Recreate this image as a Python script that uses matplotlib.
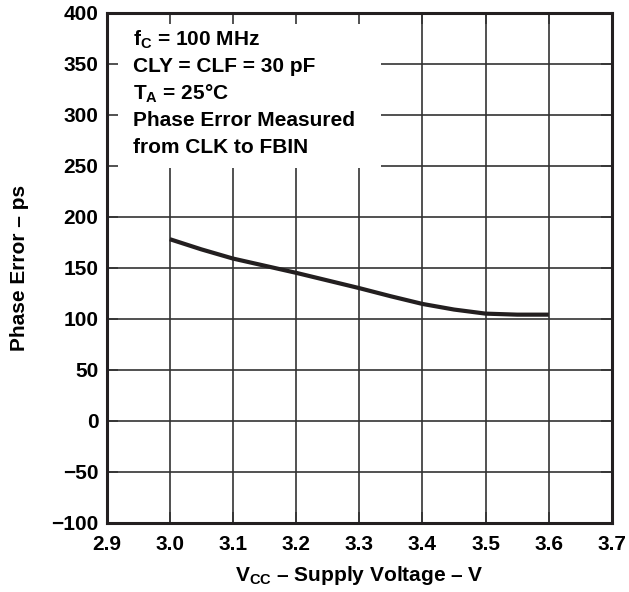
import matplotlib
matplotlib.use('Agg')
import matplotlib.pyplot as plt
from matplotlib.patches import Rectangle

plt.rcParams['font.family'] = ['Liberation Sans', 'DejaVu Sans']
plt.rcParams['font.weight'] = 'bold'
plt.rcParams['mathtext.fontset'] = 'custom'
plt.rcParams['mathtext.rm'] = 'Liberation Sans:bold'
plt.rcParams['mathtext.it'] = 'Liberation Sans:bold'
plt.rcParams['mathtext.bf'] = 'Liberation Sans:bold'

# data
vcc = [3.0, 3.05, 3.1, 3.15, 3.2, 3.25, 3.3, 3.35, 3.4, 3.45, 3.5, 3.55, 3.6]
phase_err = [178, 168, 159, 152, 145, 137.5, 130, 122, 114.5, 109, 105, 104, 104]

xticks = [2.9, 3.0, 3.1, 3.2, 3.3, 3.4, 3.5, 3.6, 3.7]
yticks = [-100, -50, 0, 50, 100, 150, 200, 250, 300, 350, 400]

notes = [r'f$_C$ = 100 MHz', 'CLY = CLF = 30 pF', r'T$_A$ = 25°C',
         'Phase Error Measured', 'from CLK to FBIN']

FS = 15

fig = plt.figure(figsize=(6.29, 5.92), dpi=100)
ax = fig.add_axes([0.1695, 0.117, 0.8035, 0.8615])

ax.set_xlim(2.9, 3.7)
ax.set_ylim(-100, 400)

# grid drawn by hand so the note box can hide part of it
for x in xticks[1:-1]:
    ax.axvline(x, color='#333333', lw=1.2, zorder=1)
for y in yticks[1:-1]:
    ax.axhline(y, color='#333333', lw=1.2, zorder=1)

ax.add_patch(Rectangle((2.9, 248), 0.435, 152, facecolor='white',
                       edgecolor='none', zorder=2))

ax.plot(vcc, phase_err, color='#231f20', lw=3, solid_capstyle='butt', zorder=4)

ax.set_axisbelow(False)
ax.set_xticks(xticks)
ax.set_xticklabels(['%.1f' % x for x in xticks])
ax.set_yticks(yticks)
ax.tick_params(direction='in', length=8, width=1.2, color='#333333',
               top=True, right=True, labelsize=FS)
ax.tick_params(axis='x', pad=9)
ax.tick_params(axis='y', pad=6)
for lab in ax.get_xticklabels() + ax.get_yticklabels():
    lab.set_fontweight('bold')
for s in ax.spines.values():
    s.set_linewidth(2.2)
    s.set_color('#231f20')
    s.set_zorder(5)

y0 = 0.9465
for i, t in enumerate(notes):
    ax.text(0.052, y0 - i * 0.0525, t, transform=ax.transAxes, fontsize=FS,
            fontweight='bold', va='center', ha='left', zorder=6)

ax.set_xlabel(r'V$_{CC}$ – Supply Voltage – V', fontsize=FS, fontweight='bold',
              labelpad=7)
ax.set_ylabel('Phase Error – ps', fontsize=FS, fontweight='bold', labelpad=16)

fig.savefig('out.png', dpi=100)
